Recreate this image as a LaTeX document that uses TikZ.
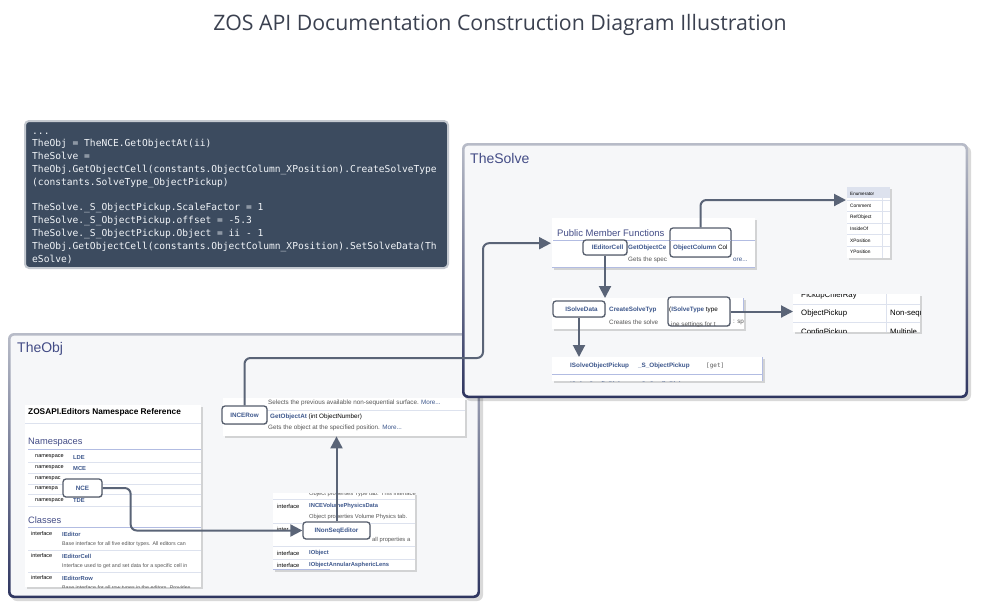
\documentclass[tikz,border=0pt]{standalone}
\usepackage{fontspec}
\setmainfont{Liberation Sans}
\setmonofont{DejaVu Sans Mono}
\newfontfamily\titlefont{Open Sans}
\usepackage{xcolor}
\usepackage{tikz}
\usetikzlibrary{
  arrows.meta,
  calc,
  shadows
}
\definecolor{titlecol}{HTML}{3B4150}
\definecolor{codebg}{HTML}{3C4B5F}
\definecolor{codeedge}{HTML}{C4C9D0}
\definecolor{codetext}{HTML}{F2F5F9}
\definecolor{panelbg}{HTML}{F6F7F9}
\definecolor{frametop}{HTML}{B8BCC8}
\definecolor{framebot}{HTML}{2E3560}
\definecolor{labelcol}{HTML}{434C86}
\definecolor{flowcol}{HTML}{5A6477}
\definecolor{linkblue}{HTML}{3D578C}
\definecolor{doxrule}{HTML}{B2BCE2}
\definecolor{doxline}{HTML}{DDE2EE}
\definecolor{doxgray}{HTML}{555555}
\definecolor{hledge}{HTML}{555D6C}
\newcommand{\dsize}[1]{\fontsize{#1}{#1}\selectfont}
\tikzset{
  shot/.style={fill=white, inner sep=0pt, anchor=north west,
    drop shadow={opacity=.3, shadow xshift=1.5pt, shadow yshift=-1.5pt}},
  hl/.style={draw=hledge, line width=1.3pt, rounded corners=3pt, fill=white,
    inner sep=0pt, text=linkblue, font=\bfseries\dsize{6.3},
    drop shadow={opacity=.25, shadow xshift=.8pt, shadow yshift=-.8pt}},
  dox/.style={anchor=west, inner sep=0pt, font=\dsize{6.3}, text=doxgray},
  link/.style={anchor=west, inner sep=0pt, font=\bfseries\dsize{6.3}, text=linkblue},
  head/.style={anchor=west, inner sep=0pt, font=\dsize{9.3}, text=labelcol},
  rule/.style={draw=doxrule, line width=.8pt},
  sep/.style={draw=doxline, line width=.6pt},
  flow/.style={draw=flowcol, line width=2pt, rounded corners=6pt,
    -{Triangle[length=12pt,width=12pt]}},
  paneltitle/.style={anchor=west, inner sep=0pt, font=\dsize{14}, text=labelcol}
}

\begin{document}
\begin{tikzpicture}[x=1pt,y=-1pt]
  \useasboundingbox (0,0) rectangle (987,613);

  \node[font=\titlefont\dsize{21.3}, text=titlecol] (title) at (500,25)
    {ZOS API Documentation Construction Diagram Illustration};

  % script
  \draw[fill=codebg, draw=codeedge, line width=2pt, rounded corners=4pt]
    (25,121) rectangle (448,268);
  \node[anchor=north west, inner sep=0pt, align=left, text=codetext,
    font=\ttfamily\fontsize{9.6}{12.8}\selectfont] (code) at (32,132.5)
    {...\\
     TheObj = TheNCE.GetObjectAt(ii)\\
     TheSolve =\\
     TheObj.GetObjectCell(constants.ObjectColumn\_XPosition).CreateSolveType\\
     (constants.SolveType\_ObjectPickup)\\
     ~\\
     TheSolve.\_S\_ObjectPickup.ScaleFactor = 1\\
     TheSolve.\_S\_ObjectPickup.offset = -5.3\\
     TheSolve.\_S\_ObjectPickup.Object = ii - 1\\
     TheObj.GetObjectCell(constants.ObjectColumn\_XPosition).SetSolveData(Th\\
     eSolve)};

  % TheObj panel
  \fill[black, opacity=.15, rounded corners=6pt] (11,336) rectangle (483,601);
  \shade[top color=frametop, bottom color=framebot, rounded corners=6pt]
    (8,333) rectangle (480,598);
  \fill[panelbg, rounded corners=4pt] (10.5,335.5) rectangle (477.5,595.5);
  \node[paneltitle] (objlabel) at (17,349) {TheObj};

  \node[shot, minimum width=176pt, minimum height=182pt] (nsref) at (25,405) {};
  \begin{scope}
    \clip (nsref.north west) rectangle (nsref.south east);
    \node[anchor=west, inner sep=0pt, font=\bfseries\dsize{8.3}] (nstitle) at (28,412)
      {ZOSAPI.Editors Namespace Reference};
    \draw[sep] (25,423) -- (201,423);
    \node[head] (nshead) at (28,442) {Namespaces};
    \draw[rule] (28,449) -- (201,449);
    \foreach \y/\kw/\ns in {457/namespace/LDE, 468/namespace/MCE, 479/namespac/{},
        489/namespa/{}, 500.5/namespace/TDE}{
      \node[dox, font=\dsize{5.5}, text=black] at (35,\y) {\kw};
      \node[link, font=\bfseries\dsize{5.8}] at (73,\y) {\ns};
      \draw[sep] (28,\y+5.5) -- (201,\y+5.5);
    }
    \node[head] (clhead) at (28,520) {Classes};
    \draw[rule] (28,527) -- (201,527);
    \foreach \y/\cl/\txt in {534/IEditor/Base interface for all five editor types. All editors can,
        556/IEditorCell/Interface used to get and set data for a specific cell in,
        578/IEditorRow/Base interface for all row types in the editors. Provides}{
      \node[dox, font=\dsize{5.5}, text=black] at (31,\y) {interface};
      \node[link, font=\bfseries\dsize{5.8}] at (62,\y) {\cl};
      \node[dox, font=\dsize{5.3}] at (62,\y+10) {\txt};
      \draw[sep] (28,\y+16) -- (201,\y+16);
    }
  \end{scope}

  \node[shot, minimum width=242pt, minimum height=38pt] (getobj) at (223,398) {};
  \begin{scope}
    \clip (getobj.north west) rectangle (getobj.south east);
    \node[dox] (prevtxt) at (268,403)
      {Selects the previous available non-sequential surface. \textcolor{linkblue}{More...}};
    \draw[sep] (265,410.5) -- (465,410.5);
    \node[link] (getat) at (270,417)
      {GetObjectAt\textcolor{black}{\mdseries\ (int ObjectNumber)}};
    \node[dox] (gettxt) at (268,428)
      {Gets the object at the specified position. \textcolor{linkblue}{More...}};
  \end{scope}

  \node[shot, minimum width=142pt, minimum height=77pt] (ifaces) at (273,493) {};
  \begin{scope}
    \clip (ifaces.north west) rectangle (ifaces.south east);
    \node[dox, font=\dsize{5.8}] at (309,494) {Object properties Type tab. This interface};
    \draw[sep] (273,499.5) -- (415,499.5);
    \foreach \y/\cl in {506/INCEVolumePhysicsData, 553/IObject,
        565/IObjectAnnularAsphericLens}{
      \node[dox, font=\dsize{5.8}, text=black] at (277,\y) {interface};
      \node[link, font=\bfseries\dsize{5.8}] at (309,\y) {\cl};
    }
    \node[dox, font=\dsize{5.8}, text=black] at (277,529) {inter};
    \node[dox, font=\dsize{5.8}] at (309,517) {Object properties Volume Physics tab.};
    \node[dox, font=\dsize{5.8}] at (372,540) {all properties a};
    \draw[sep] (273,523) -- (415,523);
    \draw[sep] (273,546) -- (415,546);
    \draw[sep] (273,559) -- (415,559);
    \draw[rule] (273,569.5) -- (330,569.5);
  \end{scope}

  % TheSolve panel
  \fill[black, opacity=.15, rounded corners=6pt] (465,146) rectangle (971,401);
  \shade[top color=frametop, bottom color=framebot, rounded corners=6pt]
    (462,143) rectangle (968,398);
  \fill[panelbg, rounded corners=4pt] (464.5,145.5) rectangle (965.5,395.5);
  \node[paneltitle] (solvelabel) at (470,158) {TheSolve};

  \node[shot, minimum width=203pt, minimum height=50pt] (pmf) at (552,218) {};
  \node[head, font=\dsize{9.5}] (pmfhead) at (557,233) {Public Member Functions};
  \draw[rule] (553,240) -- (755,240);
  \node[link] (getcell) at (628,248) {GetObjectCe};
  \node[dox] (celltxt) at (628,259.5) {Gets the spec};
  \node[dox, text=linkblue] (cellmore) at (733,259.5) {ore...};
  \draw[rule] (552,267.5) -- (755,267.5);

  \node[shot, minimum width=192pt, minimum height=31pt] (shot2) at (552,298) {};
  \begin{scope}
    \clip (shot2.north west) rectangle (shot2.south east);
    \node[link] (createtype) at (609,310) {CreateSolveTyp};
    \node[dox] (createtxt) at (609,322) {Creates the solve};
    \node[dox] (createsp) at (733,322) {: sp};
    \draw[rule] (743.5,298) -- (743.5,313);
  \end{scope}

  \node[shot, minimum width=211pt, minimum height=24pt] (shot3) at (552,357) {};
  \begin{scope}
    \clip (shot3.north west) rectangle (shot3.south east);
    \node[link] (pickup) at (570,366) {ISolveObjectPickup};
    \node[link] (spickup) at (638,366) {\_S\_ObjectPickup};
    \node[dox, font=\ttfamily\dsize{6}] (getkw) at (706,366) {[get]};
    \draw[rule] (552,374) -- (762,374);
    \node[link] at (570,384.5) {ISolveConfigPickup};
    \node[link] at (638,384.5) {\_S\_ConfigPickup};
    \draw[rule] (762,357) -- (762,381);
  \end{scope}

  \node[shot, minimum width=43pt, minimum height=71pt] (enum) at (847,187) {};
  \fill[doxline] (847,187) rectangle (890,198);
  \node[dox, font=\dsize{4.6}, text=black] (enumhead) at (850,193.5) {Enumerator};
  \draw[sep] (882,198) -- (882,258);
  \foreach \y/\en in {206/Comment, 217.5/RefObject, 229/InsideOf, 240.5/XPosition, 252/YPosition}{
    \node[dox, font=\dsize{4.8}, text=black] at (850,\y) {\en};
    \draw[sep] (847,\y-6) -- (890,\y-6);
  }

  \node[shot, minimum width=127pt, minimum height=38pt] (tab) at (793,294) {};
  \begin{scope}
    \clip (tab.north west) rectangle (tab.south east);
    \node[dox, font=\dsize{7.8}, text=black] at (801,295) {PickupChiefRay};
    \node[dox, font=\dsize{7.8}, text=black] (objpick) at (801,313) {ObjectPickup};
    \node[dox, font=\dsize{7.8}, text=black] at (890,313) {Non-sequential};
    \node[dox, font=\dsize{7.8}, text=black] at (801,332.5) {ConfigPickup};
    \node[dox, font=\dsize{7.8}, text=black] at (890,332.5) {Multiple};
    \draw[sep, line width=.8pt] (793,304) -- (920,304);
    \draw[sep, line width=.8pt] (793,322) -- (920,322);
    \draw[sep, line width=.8pt] (886,294) -- (886,332);
  \end{scope}

  % callouts
  \node[hl, minimum width=45pt, minimum height=18pt] (incerow) at (244.5,415) {INCERow};
  \node[hl, minimum width=39pt, minimum height=18pt] (nce) at (82.5,488) {NCE\hspace{8pt}};
  \node[hl, minimum width=67pt, minimum height=17pt] (inonseq) at (336.5,530.5) {INonSeqEditor\hspace{12pt}};
  \node[hl, minimum width=44pt, minimum height=15pt] (ieditorcell) at (605,247.5) {\hspace{5pt}IEditorCell};
  \node[hl, minimum width=52pt, minimum height=16pt] (isolvedata) at (579,309) {\hspace{5pt}ISolveData};
  \node[hl, minimum width=61pt, minimum height=29pt] (objcol) at (700.5,242.5) {};
  \begin{scope}
    \clip[rounded corners=3pt] (objcol.north west) rectangle (objcol.south east);
    \draw[rule] (670,240) -- (731,240);
    \node[link] at (673,248) {ObjectColumn\textcolor{black}{\mdseries\ Col}};
  \end{scope}
  \node[hl, minimum width=62pt, minimum height=29pt] (isolvetype) at (699,311.5) {};
  \begin{scope}
    \clip[rounded corners=3pt] (isolvetype.north west) rectangle (isolvetype.south east);
    \node[link] at (669,310) {\textcolor{black}{\mdseries(}ISolveType\textcolor{black}{\mdseries\ type}};
    \node[dox] at (671,324.5) {ine settings for t};
  \end{scope}

  % connectors
  \coordinate (bend) at (483,358);
  \draw[flow] (incerow.north) |- (bend) |- ($(pmf.west)+(-1,0)$);
  \draw[flow] (nce.east) -- ++(28,0) |- (inonseq.west);
  \draw[flow] (inonseq.north) -- (inonseq.north |- getobj.south);
  \draw[flow] (ieditorcell.south) -- (ieditorcell.south |- shot2.north);
  \draw[flow] (isolvedata.south) -- (isolvedata.south |- shot3.north);
  \draw[flow] (objcol.north) |- ($(enum.north west)+(-1,13)$);
  \draw[flow] (isolvetype.east) -- (isolvetype.east -| tab.west);
\end{tikzpicture}
\end{document}
